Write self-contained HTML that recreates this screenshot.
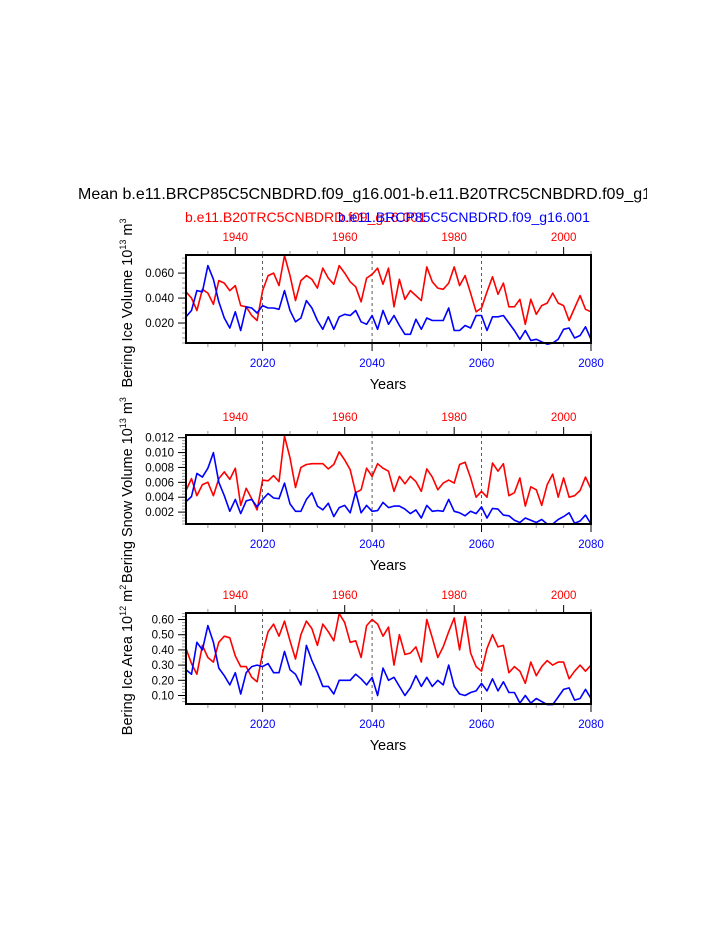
<!DOCTYPE html>
<html><head><meta charset="utf-8"><style>
body{margin:0;background:#fff}
svg{display:block;font-family:"Liberation Sans",Arial,sans-serif}
</style></head><body>
<svg id="c" width="723" height="935" viewBox="0 0 723 935" xmlns="http://www.w3.org/2000/svg">
<defs><clipPath id="tc"><rect x="0" y="0" width="647" height="935"/></clipPath></defs>
<text x="78" y="199" font-size="16" clip-path="url(#tc)">Mean b.e11.BRCP85C5CNBDRD.f09_g16.001-b.e11.B20TRC5CNBDRD.f09_g16</text>
<text x="185" y="222" font-size="14" fill="#f00">b.e11.B20TRC5CNBDRD.f09_g16.001</text>
<text x="338" y="222" font-size="14" fill="#00f">b.e11.BRCP85C5CNBDRD.f09_g16.001</text>
</svg>
<script>
const years=[];for(let y=2006;y<=2080;y++)years.push(y);
const volRed=[45,40,30,47,44,35,54,52,46,50,34,33,26,22,46,58,60,50,74,58,38,54,58,55,48,64,56,51,66,60,53,49,37,56,59,64,51,64,33,55,39,46,42,38,65,53,48,47,52,65,50,58,44,29,32,45,57,43,52,33,33,39,19,39,27,34,36,44,36,34,22,32,42,31,29].map(v=>v/1000);
const volBlue=[25,30,46,45,66,55,37,24,16,29,14,33,32,28,34,32,32,31,46,30,21,24,38,32,22,15,25,15,25,27,26,30,21,19,26,15,30,19,26,18,11,11,23,15,24,22,22,22,32,14,14,18,16,26,26,14,25,25,26,20,14,7,14,6,7,5,3,4,7,15,16,8,10,17,7].map(v=>v/1000);
const snowRed=[4.9,6.5,4.2,5.7,6.0,4.2,6.5,7.4,6.4,7.9,2.9,5.2,3.8,2.3,6.3,6.2,6.9,6.1,12.2,9.3,5.3,8.0,8.4,8.5,8.5,8.5,7.8,8.4,10.1,9.0,7.7,4.6,5.0,7.9,6.8,8.5,7.9,7.5,4.8,6.8,5.8,6.8,6.1,4.8,7.8,6.7,5.0,5.9,6.3,5.9,8.4,8.7,6.6,4.0,4.8,4.0,8.6,7.5,8.5,4.2,4.6,6.6,2.8,5.4,5.0,2.9,5.7,7.1,4.0,6.6,4.0,4.2,4.9,6.7,5.1].map(v=>v/1000);
const snowBlue=[3.4,4.1,7.2,6.7,7.9,10.0,6.0,4.2,2.1,3.7,1.8,3.5,3.7,2.7,3.7,4.5,3.9,3.8,5.9,3.1,2.1,2.1,3.7,4.6,2.8,2.3,3.2,1.4,2.6,2.9,1.9,4.7,1.9,2.9,2.1,2.2,3.3,2.6,2.8,2.8,2.4,1.8,2.3,1.2,2.9,2.1,2.2,2.1,3.7,2.1,1.9,1.5,2.1,1.8,2.7,1.2,2.5,2.4,1.6,1.5,0.9,0.6,1.2,0.9,0.6,1.0,0.4,0.4,1.0,1.4,1.9,0.5,0.8,1.6,0.4].map(v=>v/1000);
const areaRed=[0.41,0.31,0.24,0.43,0.35,0.32,0.45,0.49,0.48,0.36,0.29,0.29,0.22,0.19,0.38,0.52,0.57,0.49,0.59,0.46,0.34,0.50,0.59,0.54,0.43,0.57,0.52,0.46,0.64,0.58,0.45,0.46,0.35,0.56,0.60,0.57,0.49,0.55,0.30,0.50,0.37,0.38,0.42,0.32,0.60,0.48,0.35,0.42,0.52,0.61,0.40,0.62,0.38,0.29,0.26,0.41,0.50,0.42,0.43,0.25,0.29,0.26,0.18,0.32,0.23,0.29,0.33,0.30,0.32,0.32,0.21,0.26,0.30,0.26,0.30];
const areaBlue=[0.27,0.24,0.45,0.40,0.56,0.45,0.28,0.23,0.17,0.25,0.11,0.25,0.29,0.30,0.29,0.31,0.25,0.25,0.39,0.27,0.24,0.17,0.43,0.33,0.25,0.16,0.16,0.11,0.20,0.20,0.20,0.24,0.21,0.17,0.22,0.10,0.28,0.20,0.22,0.16,0.10,0.15,0.23,0.16,0.22,0.16,0.20,0.17,0.30,0.16,0.11,0.10,0.12,0.13,0.18,0.13,0.21,0.13,0.19,0.12,0.12,0.05,0.10,0.05,0.08,0.06,0.04,0.04,0.09,0.14,0.15,0.07,0.08,0.14,0.08];
const volTicks=[0.020,0.040,0.060],volLabels=["0.020","0.040","0.060"];
const snowTicks=[0.002,0.004,0.006,0.008,0.010,0.012],snowLabels=["0.002","0.004","0.006","0.008","0.010","0.012"];
const areaTicks=[0.1,0.2,0.3,0.4,0.5,0.6],areaLabels=["0.10","0.20","0.30","0.40","0.50","0.60"];
const bottomTicks=[2020,2040,2060,2080];
const topTicks=[1940,1960,1980,2000];
const yearOffset=75;

const svg=document.getElementById('c');const NS='http://www.w3.org/2000/svg';
function mk(tag,attrs,parent){const e=document.createElementNS(NS,tag);for(const k in attrs)e.setAttribute(k,attrs[k]);(parent||svg).appendChild(e);return e;}
const X0=186,X1=591,xmin=2006,xmax=2080;
const xs=y=>X0+(y-xmin)/(xmax-xmin)*(X1-X0);

function panel(name,top,bot,ymin,ymax,ticks,labels,minorStep,red,blue,titleHTML,titleCY){
  const g=mk('g',{});
  
  
  const ys=v=>bot-(v-ymin)/(ymax-ymin)*(bot-top);
  [2020,2040,2060].forEach(y=>{const l=mk('line',{x1:xs(y),x2:xs(y),y1:top,y2:bot,stroke:'#333','stroke-width':0.8,'stroke-dasharray':'3,3'},g);
    
    });
  for(let v=Math.ceil(ymin/minorStep)*minorStep;v<=ymax+1e-9;v+=minorStep){mk('line',{x1:X0-4,x2:X0,y1:ys(v),y2:ys(v),stroke:'#999','stroke-width':1},g);}
  ticks.forEach((t,i)=>{mk('line',{x1:X0-8,x2:X0,y1:ys(t),y2:ys(t),stroke:'#000','stroke-width':1},g);
    const tx=mk('text',{x:X0-12,y:ys(t)+4,'font-size':11.5,'text-anchor':'end'},g);tx.textContent=labels[i];
    
    });
  for(let y=2010;y<=2080;y+=5){const major=y%20==0;mk('line',{x1:xs(y),x2:xs(y),y1:bot,y2:bot+(major?8:4),stroke:major?'#000':'#999','stroke-width':1},g);}
  for(let y=1935;y<=2005;y+=5){const xx=xs(y+yearOffset);if(xx<X0||xx>X1)continue;const major=y%20==0;mk('line',{x1:xx,x2:xx,y1:top,y2:top-(major?8:4),stroke:major?'#000':'#999','stroke-width':1},g);}
  bottomTicks.forEach(y=>{const t=mk('text',{x:xs(y),y:bot+24,'font-size':11.5,fill:'#00f','text-anchor':'middle'},g);t.textContent=y;
    
    });
  topTicks.forEach(y=>{const t=mk('text',{x:xs(y+yearOffset),y:top-14,'font-size':11.5,fill:'#f00','text-anchor':'middle'},g);t.textContent=y;
    
    });
  const xt=mk('text',{x:388,y:bot+46,'font-size':14.5,'text-anchor':'middle'},g);xt.textContent='Years';
  
  
  [[red,'#f00','red-series'],[blue,'#00f','blue-series']].forEach(([d,c,n])=>{
    const p=mk('polyline',{points:d.map((v,i)=>xs(years[i]).toFixed(1)+','+ys(v).toFixed(1)).join(' '),fill:'none',stroke:c,'stroke-width':1.6,'stroke-linejoin':'round'},g);
    
    });
  const f=mk('rect',{x:X0,y:top,width:X1-X0,height:bot-top,fill:'none',stroke:'#000','stroke-width':2},g);
  
  
  const tt=mk('text',{transform:'translate(132,'+titleCY+') rotate(-90)','font-size':14.5,'text-anchor':'middle'},g);
  tt.innerHTML=titleHTML;
  
  
}
panel('ice-volume',255,343,0.004,0.0745,volTicks,volLabels,0.004,volRed,volBlue,'Bering Ice Volume 10<tspan dy="-6" font-size="9">13</tspan><tspan dy="6"> m</tspan><tspan dy="-6" font-size="9">3</tspan>',303);
panel('snow-volume',435,524,0.0004,0.01236,snowTicks,snowLabels,0.0004,snowRed,snowBlue,'Bering Snow Volume 10<tspan dy="-6" font-size="9">13</tspan><tspan dy="6"> m</tspan><tspan dy="-6" font-size="9">3</tspan>',490);
panel('ice-area',613,704,0.044,0.643,areaTicks,areaLabels,0.02,areaRed,areaBlue,'Bering Ice Area 10<tspan dy="-6" font-size="9">12</tspan><tspan dy="6"> m</tspan><tspan dy="-6" font-size="9">2</tspan>',660);
</script>
</body></html>
